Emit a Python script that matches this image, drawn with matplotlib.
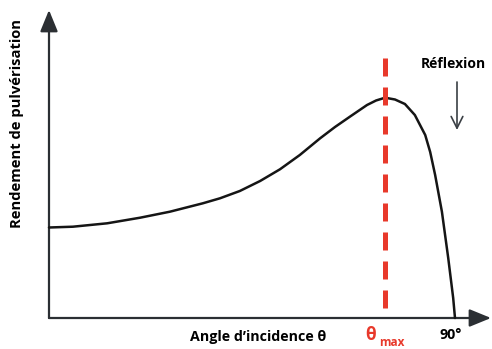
import matplotlib.pyplot as plt

# Sputtering yield vs incidence angle (arbitrary units)
angle = [0, 5.3, 12.9, 20.2, 26.8, 34.1, 37.9, 42.3, 46.8, 51.2, 55.6, 60.1,
         63.4, 66.7, 70.5, 72.5, 74.5, 76.7, 78.9, 81.1, 83.4, 84.5, 85.6,
         87.1, 88.5, 89.6, 90]
yield_ = [90.5, 91.3, 94.7, 100.3, 106.3, 114.7, 119.7, 127, 137, 148.7, 163,
          179.7, 191, 201.3, 213, 217.5, 220.3, 218.5, 214, 203, 183, 166,
          143, 106.3, 60, 20, 0]
theta_max = 74.5

# pixel -> data mapping (axes span the whole figure)
X0, SX = 49, 4.511
Y0 = 318


def dx(px):
    return (px - X0) / SX


def dy(py):
    return Y0 - py


fig = plt.figure(figsize=(4.92, 3.49), dpi=100)
ax = fig.add_axes([0, 0, 1, 1])
ax.set_xlim(dx(0), dx(492))
ax.set_ylim(dy(349), dy(0))
ax.axis('off')

axis_col = '#2b2f33'
arrow = dict(arrowstyle='-|>,head_length=1.1,head_width=0.45', color=axis_col,
             lw=1.6, shrinkA=0, shrinkB=0, mutation_scale=12)
ax.annotate('', xy=(0, dy(10)), xytext=(0, 0), arrowprops=arrow)
ax.annotate('', xy=(dx(491), 0), xytext=(0, 0), arrowprops=arrow)

ax.plot(angle, yield_, color='#151515', lw=1.8, solid_capstyle='round',
        solid_joinstyle='round', zorder=3)
ax.plot([theta_max, theta_max], [dy(58), 0], color='#e8392b', lw=3.6,
        dashes=(3.6, 2.2), zorder=4)

font = ['Open Sans', 'DejaVu Sans']
ax.text(dx(17), dy(124), 'Rendement de pulvérisation', rotation=90,
        ha='center', va='center', fontsize=10.6, fontweight='bold', family=font)
ax.text(dx(190), dy(337), 'Angle d\u2019incidence \u03b8', ha='left', va='center',
        fontsize=10.3, fontweight='bold', family=font)
ax.text(dx(365), dy(335), '\u03b8', ha='left', va='center', color='#e8392b',
        fontsize=12.5, fontweight='bold', family=font)
ax.text(dx(379), dy(342), 'max', ha='left', va='center', color='#e8392b',
        fontsize=8.5, fontweight='bold', family=font)
ax.text(dx(440), dy(335), '90\u00b0', ha='left', va='center',
        fontsize=10.3, fontweight='bold', family=font)
ax.text(dx(486), dy(64), 'Réflexion', ha='right', va='center',
        fontsize=10, fontweight='bold', family=font)
ax.annotate('', xy=(dx(457), dy(130)), xytext=(dx(457), dy(82)),
            arrowprops=dict(arrowstyle='->,head_length=0.6,head_width=0.3',
                            color='#3a3f44', lw=1.2,
                            shrinkA=0, shrinkB=0, mutation_scale=14))

fig.savefig('out.png', dpi=100)
